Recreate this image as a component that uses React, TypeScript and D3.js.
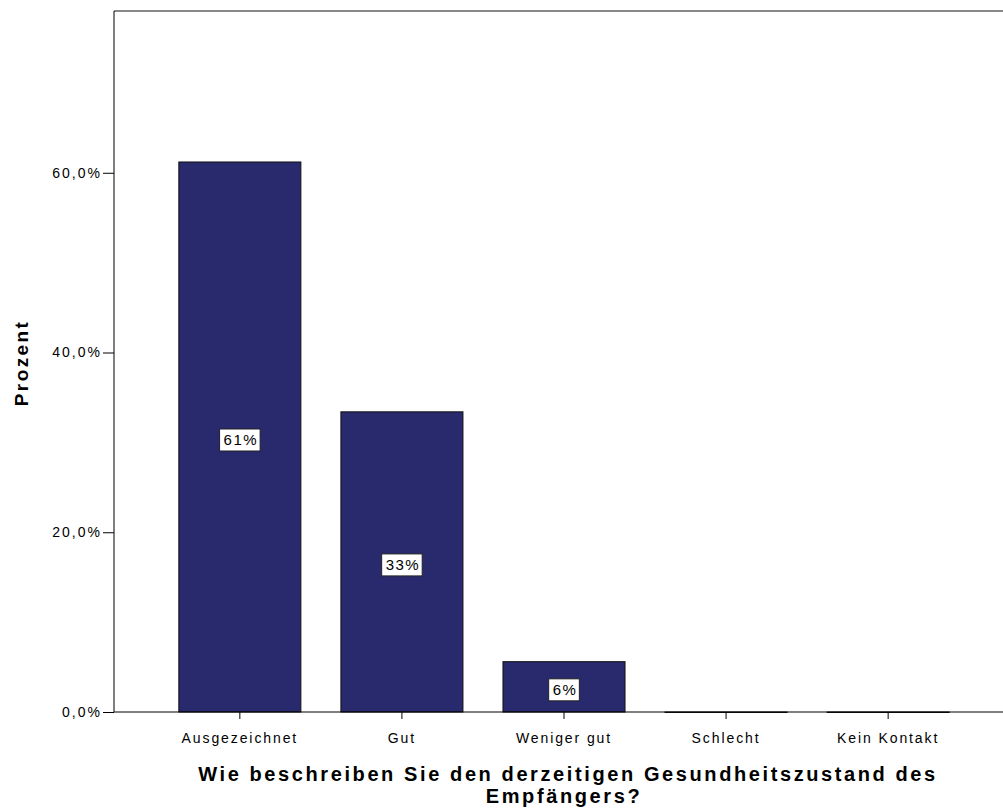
import { useEffect, useRef } from 'react';
import * as d3 from 'd3';

const categories = ['Ausgezeichnet', 'Gut', 'Weniger gut', 'Schlecht', 'Kein Kontakt'];
const percents = [61.2, 33.4, 5.6, 0, 0];
const barLabels = ['61%', '33%', '6%', '', ''];
const yTicks = [0, 20, 40, 60];

const App = () => {
  const svgRef = useRef<SVGSVGElement>(null);

  useEffect(() => {
    if (!svgRef.current) return;
    const svg = d3.select(svgRef.current);
    svg.selectAll('*').remove();

    const left = 114, right = 1014, top = 11, bottom = 712;
    const font = '"Liberation Sans", Arial, sans-serif';

    const x = d3.scaleBand<string>()
      .domain(categories)
      .range([left, right])
      .paddingInner(0.247)
      .paddingOuter(0.4);

    const y = d3.scaleLinear().domain([0, 78]).range([bottom, top]);

    // frame top
    svg.append('line')
      .attr('x1', left).attr('x2', 1003)
      .attr('y1', top).attr('y2', top)
      .attr('stroke', '#888').attr('stroke-width', 2);

    // bars
    svg.selectAll('.bar')
      .data(categories)
      .join('rect')
      .attr('class', 'bar')
      .attr('x', d => x(d) || 0)
      .attr('width', x.bandwidth())
      .attr('y', (_, i) => y(percents[i]))
      .attr('height', (_, i) => Math.max(0.5, bottom - y(percents[i])))
      .attr('fill', '#29296e')
      .attr('stroke', '#111')
      .attr('stroke-width', 1);

    // value labels
    categories.forEach((c, i) => {
      if (!barLabels[i]) return;
      const cx = (x(c) || 0) + x.bandwidth() / 2;
      const cy = (y(percents[i]) + bottom) / 2 + 3;
      const g = svg.append('g');
      const t = g.append('text')
        .attr('x', cx + 1).attr('y', cy + 5)
        .attr('text-anchor', 'middle')
        .attr('font-family', font).attr('font-size', 15)
        .attr('letter-spacing', 1.5)
        .attr('fill', '#000')
        .text(barLabels[i]);
      const bb = (t.node() as SVGTextElement).getBBox();
      const w = bb.width + 6;
      g.insert('rect', 'text')
        .attr('x', cx - w / 2).attr('y', cy - 11)
        .attr('width', w).attr('height', 22)
        .attr('fill', '#fff').attr('stroke', '#222').attr('stroke-width', 1);
    });

    // y axis
    const ya = svg.append('g')
      .attr('transform', `translate(${left},0)`)
      .call(d3.axisLeft(y).tickValues(yTicks).tickSize(11).tickPadding(1)
        .tickFormat(d => `${(+d).toFixed(1).replace('.', ',')}%`));
    ya.select('.domain').attr('stroke', '#000').attr('d', `M0,${top}V${bottom}`);
    ya.selectAll('.tick line').attr('stroke', '#000');
    ya.selectAll('.tick text').attr('font-family', font).attr('font-size', 14)
      .attr('letter-spacing', 2).attr('fill', '#000');

    // x axis
    const xa = svg.append('g')
      .attr('transform', `translate(0,${bottom})`)
      .call(d3.axisBottom(x).tickSize(7).tickPadding(14));
    xa.select('.domain').attr('stroke', '#000').attr('d', `M${left},0H1003`);
    xa.selectAll('.tick line').attr('stroke', '#000');
    xa.selectAll('.tick text').attr('font-family', font).attr('font-size', 14)
      .attr('letter-spacing', 1.9).attr('fill', '#000');

    // axis titles
    svg.append('text')
      .attr('transform', 'translate(28,363) rotate(-90)')
      .attr('text-anchor', 'middle')
      .attr('font-family', font).attr('font-size', 19).attr('font-weight', 'bold')
      .attr('letter-spacing', 2.4)
      .text('Prozent');

    const title = svg.append('text')
      .attr('text-anchor', 'middle')
      .attr('font-family', font).attr('font-size', 20).attr('font-weight', 'bold')
      .attr('letter-spacing', 2.6);
    title.append('tspan').attr('x', 568).attr('y', 781)
      .text('Wie beschreiben Sie den derzeitigen Gesundheitszustand des');
    title.append('tspan').attr('x', 564).attr('y', 803).text('Empfängers?');
  }, []);

  return (
    <svg
      ref={svgRef}
      width={1003}
      height={812}
      style={{ position: 'absolute', left: 0, top: 0, background: '#fff' }}
    />
  );
};

export default App;
